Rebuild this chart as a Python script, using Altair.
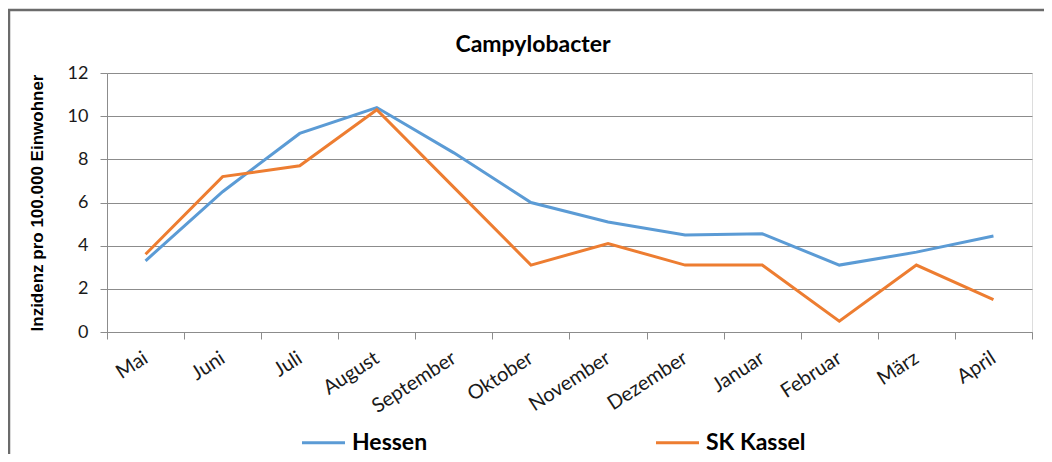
import altair as alt
import pandas as pd

months = ["Mai", "Juni", "Juli", "August", "September", "Oktober",
          "November", "Dezember", "Januar", "Februar", "März", "April"]
hessen = [3.3, 6.5, 9.2, 10.4, 8.3, 6.0, 5.1, 4.5, 4.55, 3.1, 3.7, 4.45]
kassel = [3.6, 7.2, 7.7, 10.3, 6.7, 3.1, 4.1, 3.1, 3.1, 0.5, 3.1, 1.5]
series_names = ["Hessen", "SK Kassel"]
series_colors = ["#5B9BD5", "#ED7D31"]
y_ticks = [0, 2, 4, 6, 8, 10, 12]
chart_title = "Campylobacter"

rows = []
for name, vals in zip(series_names, [hessen, kassel]):
    for m, v in zip(months, vals):
        rows.append({"Monat": m, "Wert": v, "Serie": name})
df = pd.DataFrame(rows)

W, H = 925, 259

lines = alt.Chart(df).mark_line(strokeWidth=3).encode(
    x=alt.X("Monat:N", sort=months, bandPosition=0.5,
            scale=alt.Scale(type="band", paddingInner=0, paddingOuter=0),
            axis=alt.Axis(title=None, tickBand="extent", labelAngle=327,
                          labelAlign="right", labelBaseline="middle",
                          labelFont="Lato", labelFontSize=20, labelColor="#1a1a1a",
                          labelPadding=17, tickSize=7, tickColor="#8c8c8c",
                          domainColor="#8c8c8c", grid=False)),
    y=alt.Y("Wert:Q", scale=alt.Scale(domain=[0, 12], nice=False),
            axis=alt.Axis(values=y_ticks, title="Inzidenz pro 100.000 Einwohner",
                          titleFont="Liberation Sans", titleFontSize=17,
                          titleFontWeight="bold", titleColor="#000000",
                          titlePadding=21,
                          labelFont="Lato", labelFontSize=18, labelColor="#1a1a1a",
                          labelPadding=12, tickSize=7, tickColor="#8c8c8c",
                          domainColor="#8c8c8c", gridColor="#8c8c8c",
                          gridWidth=1)),
    color=alt.Color("Serie:N", sort=series_names,
                    scale=alt.Scale(domain=series_names, range=series_colors),
                    legend=alt.Legend(title=None, orient="none", direction="horizontal",
                                      legendX=193, legendY=346,
                                      symbolType="stroke", symbolSize=1850,
                                      symbolStrokeWidth=3, labelOffset=5,
                                      labelFont="Lato", labelFontSize=23,
                                      labelFontWeight="bold", labelColor="#000000",
                                      columnPadding=221, padding=0)),
)

deco_df = pd.DataFrame({"t": [chart_title]})
frame_left = alt.Chart(deco_df).mark_rule(color="#6b6b6b", strokeWidth=2.5).encode(
    x=alt.value(-98), y=alt.value(-63), y2=alt.value(H + 125))
frame_top = alt.Chart(deco_df).mark_rule(color="#6b6b6b", strokeWidth=2.5).encode(
    x=alt.value(-99), x2=alt.value(W + 15), y=alt.value(-63))
title_text = alt.Chart(deco_df).mark_text(
    font="Lato", fontSize=23, fontWeight="bold", color="#000000",
    align="center", baseline="alphabetic").encode(
    text="t:N", x=alt.value(426), y=alt.value(-21))

chart = alt.layer(lines, frame_left, frame_top, title_text).properties(
    width=W, height=H,
    autosize=alt.AutoSizeParams(type="none"),
    padding={"left": 99, "top": 65, "right": 12, "bottom": 122},
).configure_view(stroke=None).configure(background="white")

chart.save("out.html", embed_options={"renderer": "svg", "actions": False})
